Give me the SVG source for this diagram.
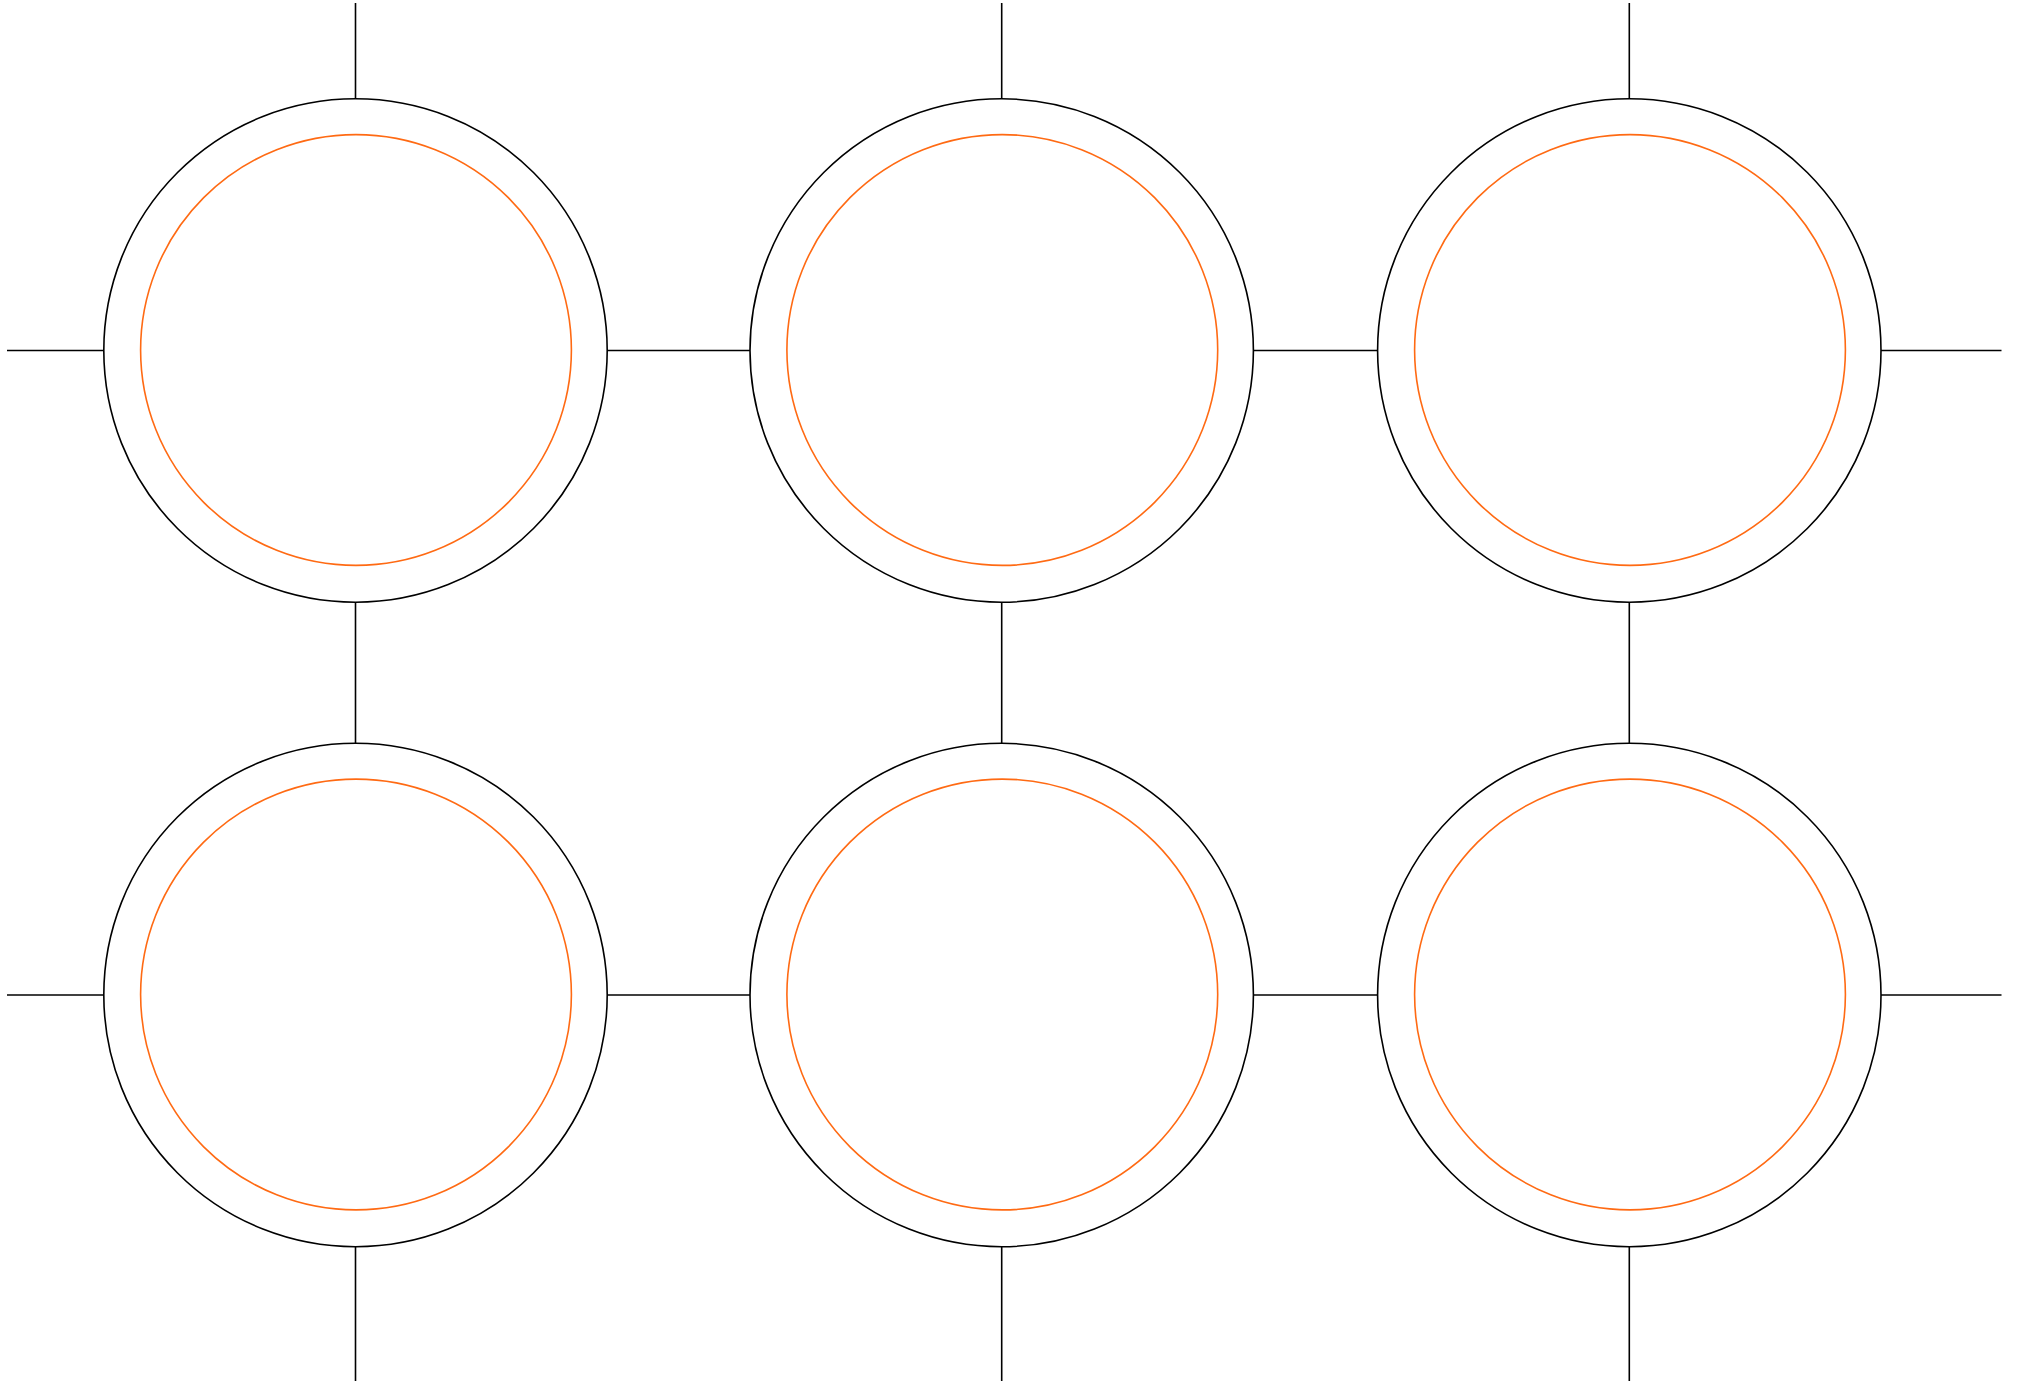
<svg xmlns="http://www.w3.org/2000/svg" width="2019" height="1383" viewBox="0 0 2019 1383">
<style>
.outer{fill:none;stroke:#000;stroke-width:1.6}
.inner{fill:none;stroke:#ff6a13;stroke-width:1.6}
.conn line{stroke:#000;stroke-width:1.6}
</style>
<rect width="2019" height="1383" fill="#fff"/>
<g id="connectors" class="conn">
<line x1="355.5" y1="3" x2="355.5" y2="99"/>
<line x1="1001.7" y1="3" x2="1001.7" y2="99"/>
<line x1="1629.3" y1="3" x2="1629.3" y2="99"/>
<line x1="7" y1="350.5" x2="103.8" y2="350.5"/>
<line x1="607.2" y1="350.5" x2="750" y2="350.5"/>
<line x1="1253.4" y1="350.5" x2="1377.6" y2="350.5"/>
<line x1="1881" y1="350.5" x2="2001.5" y2="350.5"/>
<line x1="355.5" y1="602.2" x2="355.5" y2="743.3"/>
<line x1="1001.7" y1="602.2" x2="1001.7" y2="743.3"/>
<line x1="1629.3" y1="602.2" x2="1629.3" y2="743.3"/>
<line x1="7" y1="995" x2="103.8" y2="995"/>
<line x1="607.2" y1="995" x2="750" y2="995"/>
<line x1="1253.4" y1="995" x2="1377.6" y2="995"/>
<line x1="1881" y1="995" x2="2001.5" y2="995"/>
<line x1="355.5" y1="1246.7" x2="355.5" y2="1381"/>
<line x1="1001.7" y1="1246.7" x2="1001.7" y2="1381"/>
<line x1="1629.3" y1="1246.7" x2="1629.3" y2="1381"/>
</g>
<g id="node-1"><circle class="outer" cx="355.5" cy="350.5" r="251.7"/><circle class="inner" cx="356" cy="350" r="215.4"/></g>
<g id="node-2"><circle class="outer" cx="1001.7" cy="350.5" r="251.7"/><circle class="inner" cx="1002.3" cy="350" r="215.4"/></g>
<g id="node-3"><circle class="outer" cx="1629.3" cy="350.5" r="251.7"/><circle class="inner" cx="1630" cy="350" r="215.4"/></g>
<g id="node-4"><circle class="outer" cx="355.5" cy="995" r="251.7"/><circle class="inner" cx="356" cy="994.5" r="215.4"/></g>
<g id="node-5"><circle class="outer" cx="1001.7" cy="995" r="251.7"/><circle class="inner" cx="1002.3" cy="994.5" r="215.4"/></g>
<g id="node-6"><circle class="outer" cx="1629.3" cy="995" r="251.7"/><circle class="inner" cx="1630" cy="994.5" r="215.4"/></g>
</svg>
